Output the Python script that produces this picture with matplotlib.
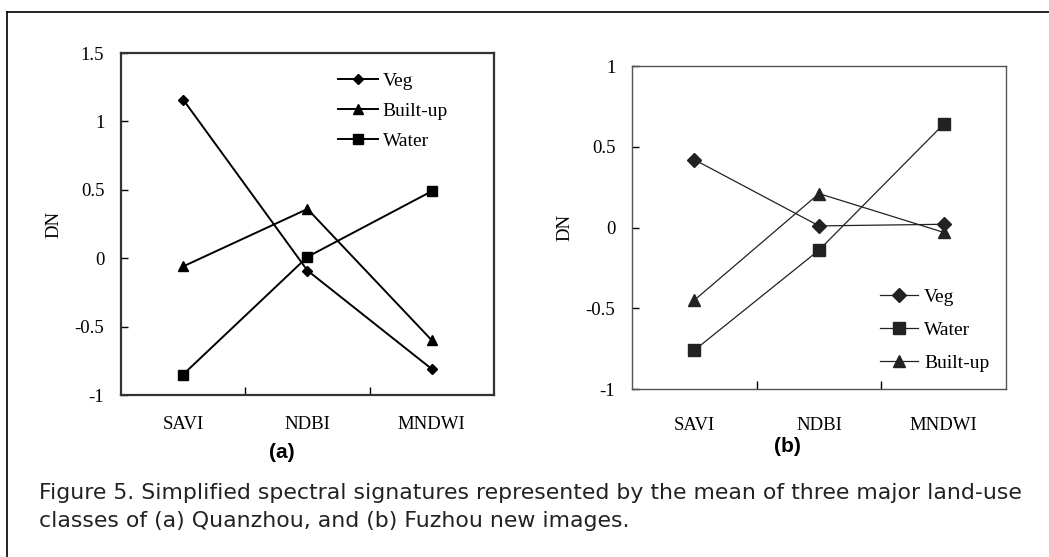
import matplotlib.pyplot as plt
import numpy as np
from matplotlib.lines import Line2D
from matplotlib.ticker import FixedLocator, MultipleLocator

# categories and series
indices = ["SAVI", "NDBI", "MNDWI"]

qz_veg = [1.16, -0.09, -0.81]
qz_built = [-0.06, 0.36, -0.60]
qz_water = [-0.85, 0.01, 0.49]

fz_veg = [0.42, 0.01, 0.02]
fz_water = [-0.76, -0.14, 0.64]
fz_built = [-0.45, 0.21, -0.03]

serif = ["Liberation Serif", "DejaVu Serif"]
x = np.arange(len(indices))

fig = plt.figure(figsize=(10.49, 5.57), dpi=100)

# outer frame of the figure (open at right and bottom)
fig.add_artist(Line2D([7/1049, 7/1049], [0, 1 - 12/557], color="k", lw=1.2))
fig.add_artist(Line2D([7/1049, 1], [1 - 12/557, 1 - 12/557], color="k", lw=1.2))


def style_axes(ax, ylo, yhi, step, frame_lw, frame_col, xpad):
    ax.set_xlim(-0.5, 2.5)
    ax.set_ylim(ylo, yhi)
    ax.xaxis.set_major_locator(FixedLocator([0.5, 1.5]))
    ax.set_xticklabels([])
    ax.xaxis.set_minor_locator(FixedLocator(x))
    ax.set_xticklabels(indices, minor=True, fontfamily=serif, fontsize=13.5)
    ax.tick_params(axis="x", which="minor", length=0, pad=xpad)
    ax.tick_params(axis="x", which="major", direction="in", length=6, width=1)
    ax.yaxis.set_major_locator(MultipleLocator(step))
    ax.yaxis.set_major_formatter(plt.FuncFormatter(lambda v, p: f"{v:g}"))
    ax.tick_params(axis="y", direction="in", length=5, width=1, pad=12, labelsize=13.5)
    for lab in ax.get_yticklabels():
        lab.set_fontfamily(serif)
    for sp in ax.spines.values():
        sp.set_linewidth(frame_lw)
        sp.set_color(frame_col)
    ax.set_ylabel("DN", fontfamily=serif, fontsize=13.5, labelpad=9)


# (a) Quanzhou
ax1 = fig.add_axes([0.1153, 0.2908, 0.3556, 0.614])
ax1.plot(x, qz_veg, color="k", lw=1.4, marker="D", ms=5, label="Veg")
ax1.plot(x, qz_built, color="k", lw=1.4, marker="^", ms=7, label="Built-up")
ax1.plot(x, qz_water, color="k", lw=1.4, marker="s", ms=7, label="Water")
style_axes(ax1, -1, 1.5, 0.5, 1.6, "#333333", 15)
ax1.legend(loc="upper left", bbox_to_anchor=(0.561, 0.967), frameon=False,
           prop={"family": serif, "size": 14}, handlelength=2.05, handletextpad=0.25,
           labelspacing=0.65, borderaxespad=0)

# (b) Fuzhou
ax2 = fig.add_axes([0.6025, 0.3016, 0.3565, 0.5799])
ax2.plot(x, fz_veg, color="#222222", lw=0.9, marker="D", ms=7, label="Veg")
ax2.plot(x, fz_water, color="#222222", lw=0.9, marker="s", ms=8, label="Water")
ax2.plot(x, fz_built, color="#222222", lw=0.9, marker="^", ms=8, label="Built-up")
style_axes(ax2, -1, 1, 0.5, 1.0, "#555555", 20)
ax2.legend(loc="upper left", bbox_to_anchor=(0.641, 0.337), frameon=False,
           prop={"family": serif, "size": 14}, handlelength=2.0, handletextpad=0.3,
           labelspacing=0.8, borderaxespad=0)

fig.text(282/1049, 1 - 452/557, "(a)", ha="center", va="center",
         fontsize=15, fontweight="bold", family="Liberation Sans")
fig.text(787/1049, 1 - 447/557, "(b)", ha="center", va="center",
         fontsize=15, fontweight="bold", family="Liberation Sans")

caption = ("Figure 5. Simplified spectral signatures represented by the mean of three major land-use\n"
           "classes of (a) Quanzhou, and (b) Fuzhou new images.")
fig.text(39/1049, 1 - 507/557, caption, ha="left", va="center", fontsize=15.8,
         family="DejaVu Sans", color="#222222", linespacing=1.55)

fig.savefig("out.png", dpi=100)
